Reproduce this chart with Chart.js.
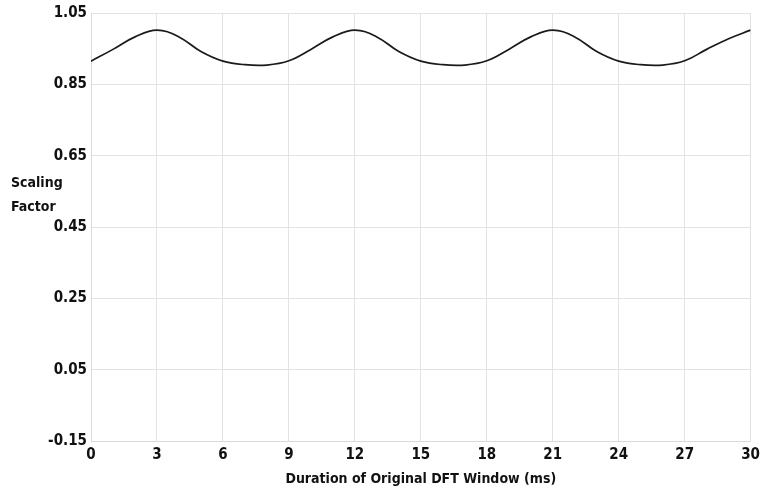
<!DOCTYPE html>
<html>
<head>
<meta charset="utf-8">
<script src="https://cdn.jsdelivr.net/npm/chart.js@4"></script>
<style>
  html, body { margin: 0; padding: 0; background: #fff; }
  #wrap { width: 765px; height: 492px; }
</style>
</head>
<body>
<div id="wrap"><canvas id="scalingChart" width="765" height="492"></canvas></div>
<script>
// window duration (ms) and scaling factor
const durations = [0, 1, 2, 3, 4, 5, 6, 7, 8, 9,
                   10, 11, 12, 13, 14, 15, 16, 17, 18,
                   19, 20, 21, 22, 23, 24, 25, 26, 27,
                   28, 29, 30];
const scaling = [0.915, 0.948, 0.983, 1.002, 0.983, 0.942, 0.915, 0.905, 0.904, 0.916,
                 0.948, 0.983, 1.002, 0.983, 0.942, 0.915, 0.905, 0.904, 0.916,
                 0.948, 0.983, 1.002, 0.983, 0.942, 0.915, 0.905, 0.904, 0.916,
                 0.948, 0.978, 1.002];
const yTicks = [-0.15, 0.05, 0.25, 0.45, 0.65, 0.85, 1.05];
const xTicks = [0, 3, 6, 9, 12, 15, 18, 21, 24, 27, 30];

const FONT = '"DejaVu Sans Condensed", "Open Sans", sans-serif';

// y title is written horizontally on two lines, left of the axis
const sideTitle = {
    id: 'sideTitle',
    afterDraw(chart) {
        const ctx = chart.ctx;
        ctx.save();
        ctx.font = 'bold 14px ' + FONT;
        ctx.fillStyle = '#111';
        ctx.textAlign = 'left';
        ctx.textBaseline = 'middle';
        ctx.fillText('Scaling', 11, 183);
        ctx.fillText('Factor', 11, 207);
        ctx.restore();
    }
};

const ctx = document.getElementById('scalingChart').getContext('2d');
new Chart(ctx, {
    type: 'line',
    data: {
        datasets: [{
            data: durations.map((d, i) => ({ x: d, y: scaling[i] })),
            borderColor: '#1a1a1a',
            borderWidth: 1.7,
            pointRadius: 0,
            fill: false,
            tension: 0.4
        }]
    },
    options: {
        responsive: false,
        animation: false,
        layout: { padding: { top: 7, right: 10, left: 0, bottom: 0 } },
        plugins: { legend: { display: false }, tooltip: { enabled: false } },
        scales: {
            x: {
                type: 'linear',
                min: 0,
                max: 30,
                afterBuildTicks: (axis) => { axis.ticks = xTicks.map(v => ({ value: v })); },
                afterFit: (axis) => { axis.height = 51; },
                grid: { color: '#e3e3e3', drawTicks: false },
                border: { color: '#d9d9d9' },
                ticks: { color: '#111', font: { family: FONT, size: 15, weight: 'bold' }, padding: 5 },
                title: {
                    display: true,
                    text: 'Duration of Original DFT Window (ms)',
                    color: '#111',
                    font: { family: FONT, size: 14, weight: 'bold' },
                    padding: { top: 4, bottom: 4 }
                }
            },
            y: {
                min: -0.15,
                max: 1.05,
                afterBuildTicks: (axis) => { axis.ticks = yTicks.map(v => ({ value: v })); },
                afterFit: (axis) => { axis.width = 91; },
                grid: { color: '#e3e3e3', drawTicks: false },
                border: { color: '#d9d9d9' },
                ticks: {
                    color: '#111',
                    font: { family: FONT, size: 15, weight: 'bold' },
                    padding: 4,
                    callback: (v) => v.toFixed(2)
                }
            }
        }
    },
    plugins: [sideTitle]
});
</script>
</body>
</html>
